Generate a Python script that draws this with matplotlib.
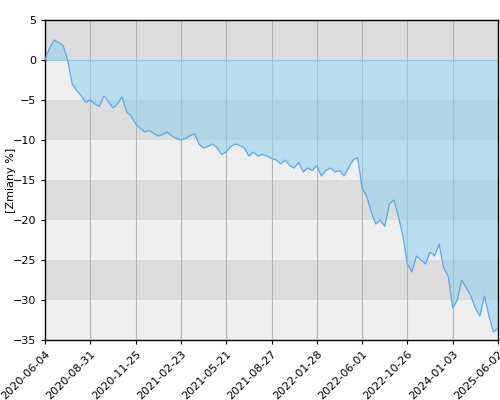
import matplotlib
matplotlib.use("Agg")
import matplotlib.pyplot as plt
import numpy as np

tick_labels = ["2020-06-04", "2020-08-31", "2020-11-25", "2021-02-23", "2021-05-21",
               "2021-08-27", "2022-01-28", "2022-06-01", "2022-10-26", "2024-01-03", "2025-06-02"]

# values sampled every 1/10 of a tick interval
values = [
    0, 1.5, 2.5, 2.2, 1.8, 0, -3, -3.8, -4.5, -5.3,
    -5.0, -5.5, -5.8, -4.5, -5.2, -6, -5.5, -4.6, -6.5, -7,
    -8, -8.5, -9, -8.8, -9.2, -9.5, -9.3, -9, -9.5, -9.8,
    -10, -9.8, -9.5, -9.2, -10.5, -11, -10.8, -10.5, -11, -11.8,
    -11.5, -10.8, -10.5, -10.7, -11, -12, -11.5, -12, -11.8, -12,
    -12.3, -12.5, -13, -12.5, -13.2, -13.5, -12.8, -14, -13.5, -13.8,
    -13.2, -14.5, -13.8, -13.5, -14, -13.8, -14.5, -13.5, -12.5, -12.2,
    -16, -17, -19, -20.5, -20, -20.8, -18, -17.5, -19.5, -22,
    -25.5, -26.5, -24.5, -25, -25.5, -24, -24.5, -23, -26, -27,
    -31, -30, -27.5, -28.5, -29.5, -31, -32, -29.5, -32, -34, -33.5,
]

x = np.linspace(0, 10, len(values))
y = np.array(values)

fig = plt.figure(figsize=(5, 4), dpi=100)
ax = fig.add_axes([0.09, 0.15, 0.906, 0.8])

for i, lo in enumerate(range(-35, 5, 5)):
    c = "#dcdcdc" if i % 2 == 1 else "#eeeeee"
    ax.axhspan(lo, lo + 5, color=c, zorder=0, lw=0)
for t in range(1, 10):
    ax.axvline(t, color="#b5b5b5", lw=0.8, zorder=1)

ax.fill_between(x, y, 0, color="#8fd0ee", alpha=0.55, lw=0, zorder=2)
ax.axhline(0, color="#8cc8e8", lw=0.8, zorder=2)
ax.plot(x, y, color="#5aa9ee", lw=0.9, zorder=3)

ax.set_xlim(0, 10)
ax.set_ylim(-35, 5)
ax.set_yticks(range(-35, 6, 5))
ax.set_xticks(range(11))
ax.set_xticklabels(tick_labels, rotation=45, ha="right", rotation_mode="anchor")
ax.tick_params(labelsize=8, length=3)
ax.set_ylabel("[Zmiany %]", fontsize=8)
ax.yaxis.set_label_coords(-0.065, 0.5)
for s in ax.spines.values():
    s.set_linewidth(1)
fig.savefig("out.png", dpi=100)
